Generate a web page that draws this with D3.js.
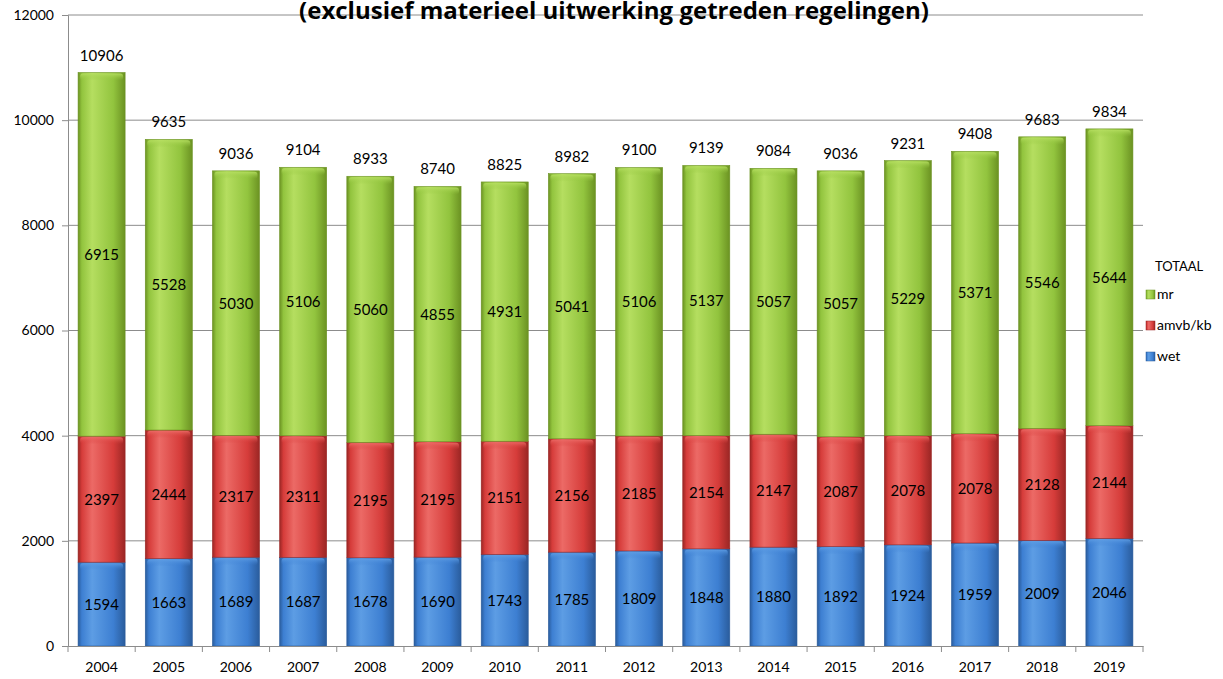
<!DOCTYPE html>
<html>
<head>
<meta charset="utf-8">
<script src="https://cdn.jsdelivr.net/npm/d3@7"></script>
<style>
  body { margin: 0; background: #fff; }
  text { font-family: Lato, "Open Sans", sans-serif; }
</style>
</head>
<body>
<svg id="chart" width="1223" height="679"></svg>
<script>
// Data
var years = ["2004","2005","2006","2007","2008","2009","2010","2011","2012","2013","2014","2015","2016","2017","2018","2019"];
var wet  = [1594,1663,1689,1687,1678,1690,1743,1785,1809,1848,1880,1892,1924,1959,2009,2046];
var amvb = [2397,2444,2317,2311,2195,2195,2151,2156,2185,2154,2147,2087,2078,2078,2128,2144];
var mr   = [6915,5528,5030,5106,5060,4855,4931,5041,5106,5137,5057,5057,5229,5371,5546,5644];
var yTicks = [0,2000,4000,6000,8000,10000,12000];
var seriesNames = ["wet","amvb/kb","mr"];

var svg = d3.select("#chart");
var margin = {left: 68, right: 80, top: 15, bottom: 33};
var W = 1223, H = 679;

var x = d3.scaleBand().domain(years).range([margin.left, W - margin.right]).paddingInner(0.3).paddingOuter(0.15);
var xb = d3.scaleBand().domain(years).range([margin.left, W - margin.right]);
var y = d3.scaleLinear().domain([0, 12000]).range([H - margin.bottom, margin.top]);

// gradients
var colors = {
    "wet":     {edge: "#2a5c9c", light: "#5d9de4", mid: "#3d7fd2"},
    "amvb/kb": {edge: "#9a2624", light: "#ec6a66", mid: "#d63c3a"},
    "mr":      {edge: "#6b9222", light: "#b5de60", mid: "#92c43e"}
};
var defs = svg.append("defs");
seriesNames.forEach(function(s, i) {
    var c = colors[s];
    var g = defs.append("linearGradient").attr("id", "g" + i).attr("x1", 0).attr("x2", 1).attr("y1", 0).attr("y2", 0);
    g.append("stop").attr("offset", "0%").attr("stop-color", c.edge);
    g.append("stop").attr("offset", "8%").attr("stop-color", c.mid);
    g.append("stop").attr("offset", "30%").attr("stop-color", c.light);
    g.append("stop").attr("offset", "75%").attr("stop-color", c.mid);
    g.append("stop").attr("offset", "100%").attr("stop-color", c.edge);
    var t = defs.append("linearGradient").attr("id", "t" + i).attr("x1", 0).attr("x2", 0).attr("y1", 0).attr("y2", 1);
    t.append("stop").attr("offset", "0%").attr("stop-color", c.light);
    t.append("stop").attr("offset", "100%").attr("stop-color", c.mid).attr("stop-opacity", 0);
});

// grid
svg.append("g").selectAll("line").data(yTicks.slice(1)).join("line")
    .attr("x1", margin.left).attr("x2", W - margin.right)
    .attr("y1", function(d) { return y(d); }).attr("y2", function(d) { return y(d); })
    .attr("stroke", "#8c8c8c").attr("stroke-width", 1);

// y axis
var yAxis = svg.append("g").attr("transform", "translate(" + margin.left + ",0)")
    .call(d3.axisLeft(y).tickValues(yTicks).tickSize(6).tickPadding(8).tickFormat(d3.format("d")));
yAxis.select(".domain").attr("stroke", "#8c8c8c");
yAxis.selectAll(".tick line").attr("stroke", "#8c8c8c");
yAxis.selectAll("text").attr("font-size", 14).attr("fill", "#000");

// stacked data
var rows = years.map(function(yr, i) { return {year: yr, "wet": wet[i], "amvb/kb": amvb[i], "mr": mr[i]}; });
var stack = d3.stack().keys(seriesNames)(rows);

var layers = svg.append("g").selectAll("g").data(stack).join("g");
layers.each(function(layer, i) {
    var g = d3.select(this);
    g.selectAll("rect.bar").data(layer).join("rect").attr("class", "bar")
        .attr("x", function(d) { return x(d.data.year); })
        .attr("width", x.bandwidth())
        .attr("y", function(d) { return y(d[1]); })
        .attr("height", function(d) { return y(d[0]) - y(d[1]); })
        .attr("fill", "url(#g" + i + ")")
        .attr("stroke", colors[layer.key].edge).attr("stroke-width", 0.6);
    // top bevel
    g.selectAll("rect.bevel").data(layer).join("rect").attr("class", "bevel")
        .attr("x", function(d) { return x(d.data.year) + 2; })
        .attr("width", x.bandwidth() - 4)
        .attr("y", function(d) { return y(d[1]) + 1; })
        .attr("height", 7).attr("rx", 3)
        .attr("fill", "url(#t" + i + ")").attr("opacity", 0.9);
    g.selectAll("text").data(layer).join("text")
        .attr("x", function(d) { return x(d.data.year) + x.bandwidth() / 2; })
        .attr("y", function(d) { return (y(d[0]) + y(d[1])) / 2 + 5.5; })
        .attr("text-anchor", "middle").attr("font-size", 15).attr("fill", "#000")
        .text(function(d) { return d[1] - d[0]; });
});

// totals
svg.append("g").selectAll("text").data(rows).join("text")
    .attr("x", function(d) { return x(d.year) + x.bandwidth() / 2; })
    .attr("y", function(d) { return y(d.wet + d["amvb/kb"] + d.mr) - 12; })
    .attr("text-anchor", "middle").attr("font-size", 15).attr("fill", "#000")
    .text(function(d) { return d.wet + d["amvb/kb"] + d.mr; });

// x axis
var xAxis = svg.append("g").attr("transform", "translate(0," + y(0) + ")")
    .call(d3.axisBottom(xb).tickSize(0).tickPadding(16));
xAxis.select(".domain").attr("stroke", "#8c8c8c");
xAxis.selectAll("text").attr("font-size", 14).attr("fill", "#000");
xAxis.append("g").selectAll("line").data(years.concat(["end"])).join("line")
    .attr("x1", function(d, i) { return i < years.length ? xb(d) : xb(years[years.length - 1]) + xb.bandwidth(); })
    .attr("x2", function(d, i) { return i < years.length ? xb(d) : xb(years[years.length - 1]) + xb.bandwidth(); })
    .attr("y1", 0).attr("y2", 6).attr("stroke", "#8c8c8c");

// title (top line falls outside the picture)
svg.append("text").attr("x", 614).attr("y", 19).attr("text-anchor", "middle")
    .style("font-family", "'Open Sans', sans-serif")
    .attr("font-size", 24).attr("font-weight", "bold").attr("fill", "#000")
    .text("(exclusief materieel uitwerking getreden regelingen)");

// legend
var lg = svg.append("g").attr("transform", "translate(1146,0)");
lg.append("text").attr("x", 9).attr("y", 271).attr("font-size", 13).text("TOTAAL");
var legendItems = ["mr","amvb/kb","wet"];
legendItems.forEach(function(s, i) {
    var yy = 290 + i * 31;
    var idx = seriesNames.indexOf(s);
    lg.append("rect").attr("x", 0).attr("y", yy).attr("width", 9).attr("height", 9)
        .attr("fill", "url(#g" + idx + ")").attr("stroke", colors[s].edge).attr("stroke-width", 0.5);
    lg.append("text").attr("x", 11).attr("y", yy + 9).attr("font-size", 14).text(s);
});
</script>
</body>
</html>
